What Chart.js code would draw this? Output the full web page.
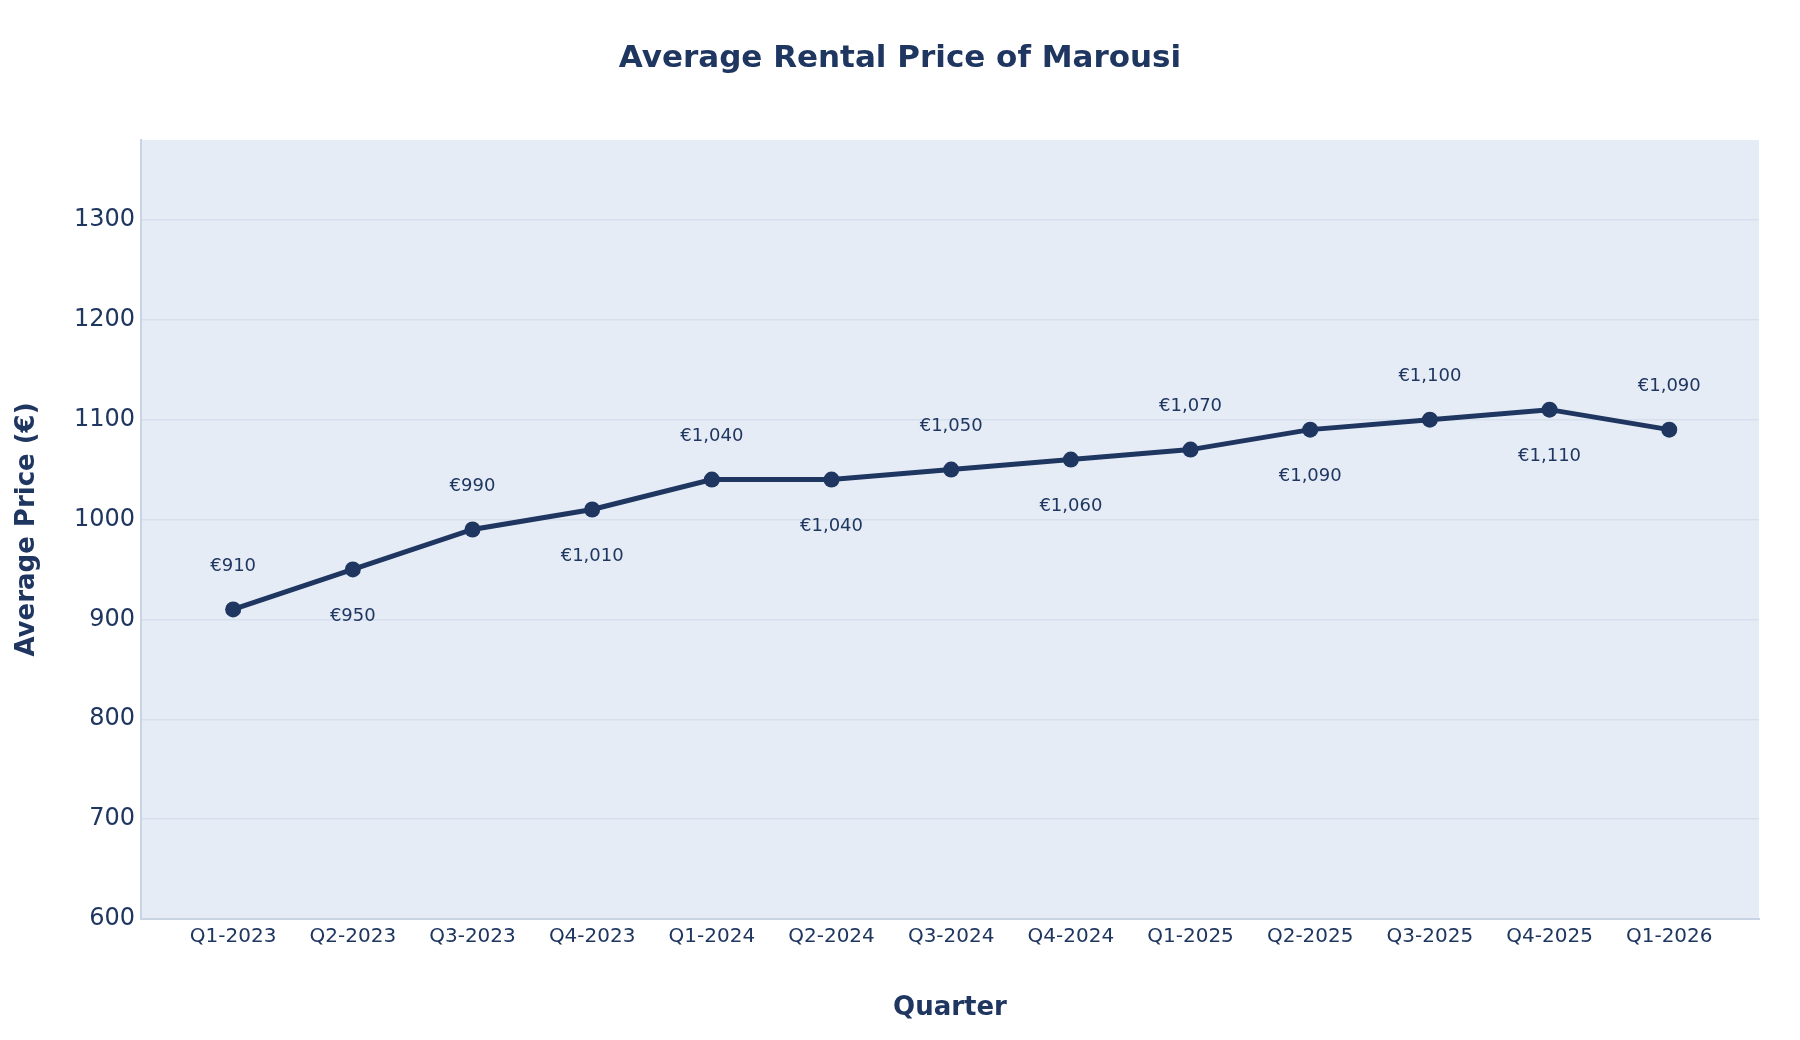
<!DOCTYPE html>
<html>
<head>
<meta charset="utf-8">
<script src="https://cdn.jsdelivr.net/npm/chart.js@4.4.1/dist/chart.umd.min.js"></script>
<style>
  html, body { margin: 0; padding: 0; background: #fff; }
</style>
</head>
<body>
<canvas id="myChart" width="1800" height="1040"></canvas>
<script>
const quarters = ['Q1-2023', 'Q2-2023', 'Q3-2023', 'Q4-2023', 'Q1-2024', 'Q2-2024', 'Q3-2024',
  'Q4-2024', 'Q1-2025', 'Q2-2025', 'Q3-2025', 'Q4-2025', 'Q1-2026'];
const avgPrice = [910, 950, 990, 1010, 1040, 1040, 1050, 1060, 1070, 1090, 1100, 1110, 1090];
const labelSide = ['above', 'below', 'above', 'below', 'above', 'below', 'above',
  'below', 'above', 'below', 'above', 'below', 'above'];
const yTicks = [600, 700, 800, 900, 1000, 1100, 1200, 1300];

const navy = '#1e3660';

// plot background
const plotBg = {
  id: 'plotBg',
  beforeDraw(chart) {
    const { ctx, chartArea: a } = chart;
    ctx.save();
    ctx.fillStyle = '#fff';
    ctx.fillRect(0, 0, chart.width, chart.height);
    ctx.fillStyle = '#e5ecf6';
    ctx.fillRect(a.left, a.top, a.right - a.left, a.bottom - a.top);
    ctx.restore();
  }
};

// value labels, alternating above / below
const valueLabels = {
  id: 'valueLabels',
  afterDatasetsDraw(chart) {
    const { ctx } = chart;
    const meta = chart.getDatasetMeta(0);
    ctx.save();
    ctx.font = '18px "DejaVu Sans"';
    ctx.fillStyle = navy;
    ctx.textAlign = 'center';
    ctx.textBaseline = 'middle';
    meta.data.forEach((pt, i) => {
      const txt = '€' + avgPrice[i].toLocaleString('en-US');
      const dy = labelSide[i] === 'above' ? -43 : 47;
      ctx.fillText(txt, pt.x, pt.y + dy);
    });
    ctx.restore();
  }
};

// chart title and axis titles
const titles = {
  id: 'titles',
  afterDraw(chart) {
    const { ctx, chartArea: a } = chart;
    ctx.save();
    ctx.fillStyle = navy;
    ctx.textAlign = 'center';
    ctx.textBaseline = 'middle';
    ctx.font = 'bold 31px "DejaVu Sans"';
    ctx.fillText('Average Rental Price of Marousi', 900, 59);
    ctx.font = 'bold 26px "DejaVu Sans"';
    ctx.fillText('Quarter', (a.left + a.right) / 2, 1008);
    ctx.translate(27, (a.top + a.bottom) / 2);
    ctx.rotate(-Math.PI / 2);
    ctx.fillText('Average Price (€)', 0, 0);
    ctx.restore();
  }
};

new Chart(document.getElementById('myChart'), {
  type: 'line',
  data: {
    datasets: [{
      data: avgPrice.map((v, i) => ({ x: i, y: v })),
      borderColor: navy,
      backgroundColor: navy,
      borderWidth: 5,
      pointRadius: 8,
      pointBackgroundColor: navy,
      pointBorderWidth: 0,
      tension: 0
    }]
  },
  options: {
    responsive: false,
    animation: false,
    devicePixelRatio: 1,
    layout: { padding: { top: 140, right: 41, left: 0, bottom: 0 } },
    plugins: {
      legend: { display: false },
      tooltip: { enabled: false },
      title: { display: false }
    },
    scales: {
      x: {
        type: 'linear',
        min: -0.77,
        max: 12.75,
        afterBuildTicks: s => { s.ticks = quarters.map((q, i) => ({ value: i })); },
        afterFit: s => { s.height = 121; },
        grid: { display: false, drawTicks: false },
        border: { display: true, color: '#c8d4e3', width: 2 },
        ticks: {
          padding: 6,
          color: navy,
          font: { family: 'DejaVu Sans', size: 20 },
          maxRotation: 0,
          autoSkip: false,
          callback: v => quarters[v]
        }
      },
      y: {
        min: 600,
        max: 1380,
        afterBuildTicks: s => { s.ticks = yTicks.map(v => ({ value: v })); },
        afterFit: s => { s.width = 141; },
        grid: { color: '#d6e0ed', lineWidth: 1.5, drawTicks: false },
        border: { display: true, color: '#c8d4e3', width: 2 },
        ticks: {
          padding: 6,
          color: navy,
          font: { family: 'DejaVu Sans', size: 24 },
          callback: v => String(v)
        }
      }
    }
  },
  plugins: [plotBg, valueLabels, titles]
});
</script>
</body>
</html>
